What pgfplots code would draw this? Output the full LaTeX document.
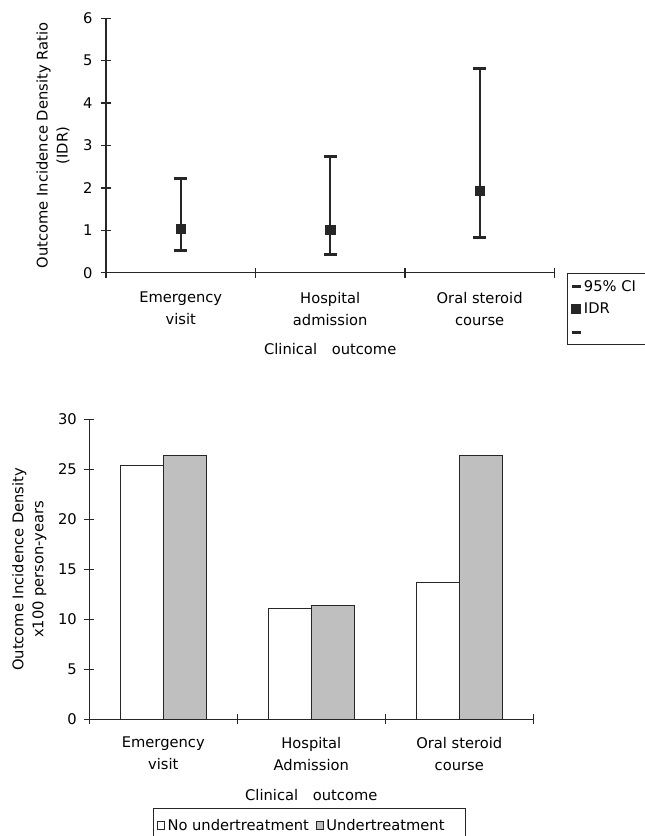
\documentclass[border=0pt]{standalone}
\usepackage{fontspec}
\setmainfont{DejaVu Sans}
\usepackage{pgfplots}
\pgfplotsset{compat=1.18}
\begin{document}
\begin{tikzpicture}
\path[use as bounding box] (0pt,0pt) rectangle (645pt,836pt);
\pgfplotsset{
  every axis/.append style={font=\fontsize{14.7}{20}\selectfont},
  /pgf/number format/assume math mode=true,
  myaxis/.style={
    scale only axis,
    axis x line*=bottom, axis y line*=left,
    axis line style={line width=1.3pt, -, black!85},
    tick style={line width=1.3pt, black!85},
    tick align=center,
    major tick length=10pt,
    xmin=0.5, xmax=3.5,
    xtick={0.5,1.5,2.5,3.5},
    xticklabels={,,,},
    extra x ticks={1,2,3},
    every axis y label/.style={rotate=90, anchor=center, align=center},
    every axis x label/.style={anchor=center},
    clip=false,
  },
}
% ---------------- top: IDR with 95% CI ----------------
\begin{axis}[myaxis,
  at={(106pt,563.3pt)}, anchor=south west,
  width=448.4pt, height=254.4pt,
  ymin=0, ymax=6, ytick={0,1,2,3,4,5,6},
  yticklabel style={xshift=-5pt},
  extra x tick style={major tick length=0pt, tick style={draw=none},
    tick label style={align=center, font=\fontsize{14.7}{22}\selectfont, yshift=-16pt}},
  extra x tick labels={{Emergency\\visit},{Hospital\\admission},{Oral steroid\\course}},
  ylabel={Outcome Incidence Density Ratio\\(IDR)},
  ylabel style={at={(axis description cs:-0.118,0.5)}},
  xlabel={Clinical\hspace{1em}outcome},
  xlabel style={at={(axis description cs:0.5,-0.300)}},
  legend style={at={(axis description cs:1.028,-0.0024)}, anchor=north west,
    draw=black!85, line width=1pt, inner xsep=3pt, inner ysep=5pt,
    row sep=7.5pt, nodes={inner sep=1.5pt, font=\fontsize{14.7}{20}\selectfont}},
  legend cell align=left,
]
\addplot[black!85, only marks, mark=none, forget plot,
  error bars/.cd, y dir=both, y explicit,
  error bar style={line width=1.7pt, black!85},
  error mark=|, error mark options={line width=3pt, mark size=6.5pt, black!85},
  ]
  coordinates {
    (1,1.03) += (0,1.18) -= (0,0.51)
    (2,1.02) += (0,1.72) -= (0,0.60)
    (3,1.93) += (0,2.88) -= (0,1.09)
  };
\addplot[only marks, mark=square*, mark size=4.6pt, black!85, forget plot]
  coordinates {(1,1.03) (2,1.02) (3,1.93)};
\addlegendimage{legend image code/.code={\draw[line width=3pt, black!85] (0pt,0pt) -- (9pt,0pt);}}
\addlegendentry{\makebox[75pt][l]{95\% CI}}
\addlegendimage{legend image code/.code={\fill[black!85] (0pt,-4.5pt) rectangle (9pt,4.5pt);}}
\addlegendentry{IDR}
\addlegendimage{legend image code/.code={\draw[line width=3pt, black!85] (0pt,0pt) -- (9pt,0pt);}}
\addlegendentry{\phantom{IDR}}
\end{axis}
% ---------------- bottom: incidence density bars ----------------
\begin{axis}[myaxis,
  at={(89.3pt,116.7pt)}, anchor=south west,
  width=444pt, height=300pt,
  ymin=0, ymax=30, ytick={0,5,10,15,20,25,30},
  yticklabel style={xshift=-4pt},
  extra x tick style={major tick length=0pt, tick style={draw=none},
    tick label style={align=center, font=\fontsize{14.7}{22}\selectfont, yshift=-14pt}},
  extra x tick labels={{Emergency\\visit},{Hospital\\Admission},{Oral steroid\\course}},
  ylabel={Outcome Incidence Density\\x100 person-years},
  ylabel style={at={(axis description cs:-0.135,0.5)}},
  xlabel={Clinical\hspace{1em}outcome},
  xlabel style={at={(axis description cs:0.5,-0.252)}},
  legend style={at={(axis description cs:0.1428,-0.2957)}, anchor=north west,
    draw=black!85, line width=1pt, inner xsep=4pt, inner ysep=9pt,
    legend columns=2, column sep=1pt,
    nodes={inner sep=1.5pt, font=\fontsize{14.7}{20}\selectfont}},
]
\addplot[ybar, bar width=43pt, bar shift=-21.5pt, fill=white, draw=black!85, line width=1pt,
  legend image code/.code={\filldraw[line width=0.8pt] (0pt,-4pt) rectangle (7pt,4pt);}]
  coordinates {(1,25.4) (2,11.1) (3,13.7)};
\addlegendentry{\makebox[146pt][l]{No undertreatment}}
\addplot[ybar, bar width=43pt, bar shift=21.5pt, fill=black!25, draw=black!85, line width=1pt,
  legend image code/.code={\filldraw[line width=0.8pt] (0pt,-4pt) rectangle (7pt,4pt);}]
  coordinates {(1,26.4) (2,11.4) (3,26.4)};
\addlegendentry{\makebox[134pt][l]{Undertreatment}}
\end{axis}
\end{tikzpicture}
\end{document}
